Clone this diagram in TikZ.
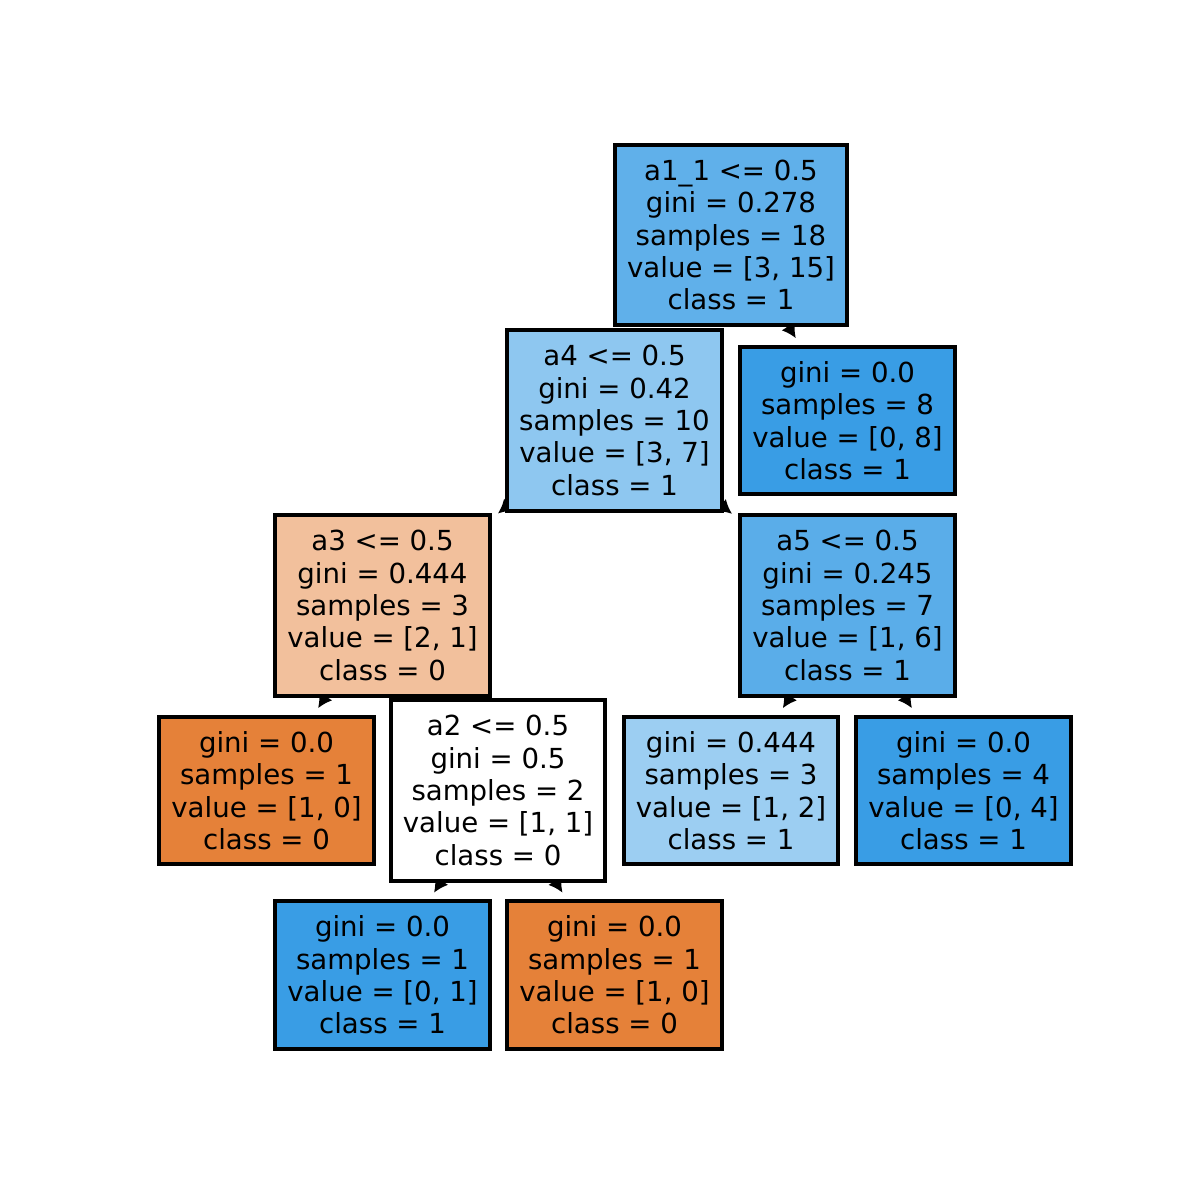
\documentclass[tikz,border=0pt]{standalone}
\usepackage{fontspec}
\setmainfont{DejaVu Sans}
\usetikzlibrary{arrows.meta,backgrounds}

\definecolor{rootblue}{RGB}{96,176,234}
\definecolor{lightblue}{RGB}{142,199,240}
\definecolor{paleblue}{RGB}{156,206,242}
\definecolor{midblue}{RGB}{90,173,233}
\definecolor{fullblue}{RGB}{57,157,229}
\definecolor{fullorange}{RGB}{229,129,57}
\definecolor{paleorange}{RGB}{242,192,156}

\tikzset{
  treenode/.style={draw=black, line width=1.14pt, align=center, inner xsep=1.2mm, inner ysep=0pt,
    font={\fontsize{7.85pt}{9.22pt}\selectfont}},
  splitnode/.style={treenode, minimum height=1.8cm},
  leafnode/.style={treenode, minimum height=1.47cm},
  edge/.style={-{Latex[length=1.4mm,width=1.6mm]}, line width=1.14pt, shorten >=0.8mm}
}

\begin{document}
\begin{tikzpicture}[x=0.01cm, y=-0.01cm]
\useasboundingbox (0,0) rectangle (1200,1200);

% splits
\node[splitnode, fill=rootblue] (a1) at (731,235) {a1\_1 <= 0.5\\gini = 0.278\\samples = 18\\value = [3, 15]\\class = 1};
\node[splitnode, fill=lightblue] (a4) at (614.5,420.5) {a4 <= 0.5\\gini = 0.42\\samples = 10\\value = [3, 7]\\class = 1};
\node[splitnode, fill=paleorange] (a3) at (382.5,605.5) {a3 <= 0.5\\gini = 0.444\\samples = 3\\value = [2, 1]\\class = 0};
\node[splitnode, fill=midblue] (a5) at (847.5,605.5) {a5 <= 0.5\\gini = 0.245\\samples = 7\\value = [1, 6]\\class = 1};
\node[splitnode, fill=white] (a2) at (498,790.5) {a2 <= 0.5\\gini = 0.5\\samples = 2\\value = [1, 1]\\class = 0};

% leaves
\node[leafnode, fill=fullblue] (l1) at (847.5,420.5) {gini = 0.0\\samples = 8\\value = [0, 8]\\class = 1};
\node[leafnode, fill=fullorange] (l2) at (266.5,790.5) {gini = 0.0\\samples = 1\\value = [1, 0]\\class = 0};
\node[leafnode, fill=paleblue] (l3) at (731,790.5) {gini = 0.444\\samples = 3\\value = [1, 2]\\class = 1};
\node[leafnode, fill=fullblue] (l4) at (963.5,790.5) {gini = 0.0\\samples = 4\\value = [0, 4]\\class = 1};
\node[leafnode, fill=fullblue] (l5) at (382.5,975) {gini = 0.0\\samples = 1\\value = [0, 1]\\class = 1};
\node[leafnode, fill=fullorange] (l6) at (614.5,975) {gini = 0.0\\samples = 1\\value = [1, 0]\\class = 0};

\begin{scope}[on background layer]
\foreach \p/\c in {a1/a4, a1/l1, a4/a3, a4/a5, a3/l2, a3/a2, a5/l3, a5/l4, a2/l5, a2/l6}
\draw[edge] (\p.center) -- (\c);
\end{scope}
\end{tikzpicture}
\end{document}
